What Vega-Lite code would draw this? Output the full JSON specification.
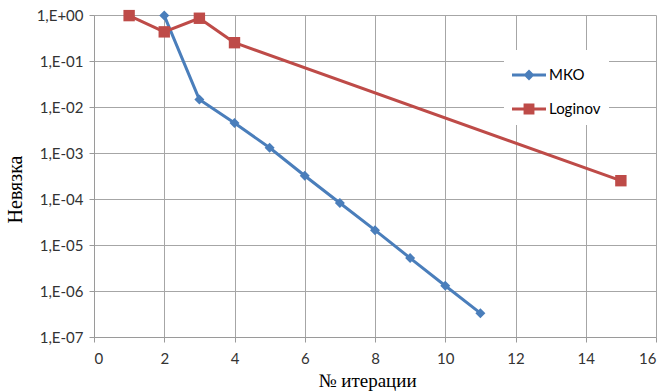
{
  "$schema": "https://vega.github.io/schema/vega-lite/v6.json",
  "width": 562,
  "height": 322,
  "autosize": {"type": "none"},
  "padding": {"left": 94, "top": 15, "right": 9, "bottom": 54},
  "background": "white",
  "config": {"view": {"stroke": null}, "font": "Lato"},
  "data": {
    "values": [
      {"series": "МКО", "x": 2, "y": 0.97},
      {"series": "МКО", "x": 3, "y": 0.0145},
      {"series": "МКО", "x": 4, "y": 0.0045},
      {"series": "МКО", "x": 5, "y": 0.0013},
      {"series": "МКО", "x": 6, "y": 0.00032},
      {"series": "МКО", "x": 7, "y": 0.000082},
      {"series": "МКО", "x": 8, "y": 0.000021},
      {"series": "МКО", "x": 9, "y": 0.0000052},
      {"series": "МКО", "x": 10, "y": 0.0000013},
      {"series": "МКО", "x": 11, "y": 0.00000033},
      {"series": "Loginov", "x": 1, "y": 0.97},
      {"series": "Loginov", "x": 2, "y": 0.43},
      {"series": "Loginov", "x": 3, "y": 0.85},
      {"series": "Loginov", "x": 4, "y": 0.25},
      {"series": "Loginov", "x": 15, "y": 0.00025}
    ]
  },
  "encoding": {
    "x": {
      "field": "x",
      "type": "quantitative",
      "scale": {"domain": [0, 16], "nice": false, "zero": false},
      "axis": {
        "title": "№ итерации",
        "titleFont": "Liberation Serif",
        "titleFontSize": 19,
        "titleFontWeight": "normal",
        "titleColor": "#000000",
        "titleX": 273,
        "titleY": 43,
        "titleBaseline": "middle",
        "values": [0, 2, 4, 6, 8, 10, 12, 14, 16],
        "format": "d",
        "labelFont": "Lato",
        "labelFontSize": 15,
        "labelColor": "#333333",
        "labelPadding": 9,
        "tickSize": 5,
        "tickColor": "#9a9a9a",
        "domainColor": "#9a9a9a",
        "gridColor": "#a6a6a6",
        "gridOpacity": 1,
        "grid": true
      }
    },
    "y": {
      "field": "y",
      "type": "quantitative",
      "scale": {"type": "log", "domain": [0.0000001, 1], "nice": false},
      "axis": {
        "title": "Невязка",
        "titleFont": "Liberation Serif",
        "titleFontSize": 20,
        "titleFontWeight": "normal",
        "titleColor": "#000000",
        "titleX": -79,
        "titleY": 174,
        "titleBaseline": "middle",
        "titleAngle": -90,
        "values": [0.0000001, 0.000001, 0.00001, 0.0001, 0.001, 0.01, 0.1, 1],
        "labelExpr": "'1,E' + (round(log(datum.value)/LN10) >= 0 ? '+' : '-') + (abs(round(log(datum.value)/LN10)) < 10 ? '0' : '') + abs(round(log(datum.value)/LN10))",
        "labelFont": "Lato",
        "labelFontSize": 15,
        "labelColor": "#333333",
        "labelPadding": 6,
        "tickSize": 5,
        "tickColor": "#9a9a9a",
        "domainColor": "#9a9a9a",
        "gridColor": "#a6a6a6",
        "gridOpacity": 1,
        "grid": true
      }
    }
  },
  "layer": [
    {
      "transform": [{"filter": "false"}],
      "mark": {"type": "point", "filled": true, "opacity": 1},
      "encoding": {
        "color": {
          "field": "series",
          "type": "nominal",
          "scale": {"domain": ["МКО", "Loginov"], "range": ["#4A7EBB", "#BE4B48"]},
          "legend": {
            "title": null,
            "orient": "none",
            "legendX": 410,
            "legendY": 35,
            "fillColor": "white",
            "padding": 8,
            "symbolSize": 1156,
            "symbolStrokeWidth": 0,
            "symbolOpacity": 1,
            "labelFont": "Lato",
            "labelFontSize": 15,
            "labelColor": "#000000",
            "labelOffset": 3,
            "rowPadding": 9
          }
        },
        "shape": {
          "field": "series",
          "type": "nominal",
          "scale": {
            "domain": ["МКО", "Loginov"],
            "range": [
              "M-1,-0.09H1V0.09H-1Z M0,-0.32L0.32,0L0,0.32L-0.32,0Z",
              "M-1,-0.09H1V0.09H-1Z M-0.32,-0.32H0.32V0.32H-0.32Z"
            ]
          }
        }
      }
    },
    {
      "mark": {"type": "line", "strokeWidth": 3, "strokeJoin": "round", "strokeCap": "round"},
      "encoding": {
        "color": {"field": "series", "type": "nominal", "legend": null}
      }
    },
    {
      "transform": [{"filter": "datum.series === 'МКО'"}],
      "mark": {"type": "point", "shape": "diamond", "filled": true, "size": 100, "opacity": 1, "color": "#4A7EBB"}
    },
    {
      "transform": [{"filter": "datum.series === 'Loginov'"}],
      "mark": {"type": "point", "shape": "square", "filled": true, "size": 130, "opacity": 1, "color": "#BE4B48"}
    }
  ]
}
